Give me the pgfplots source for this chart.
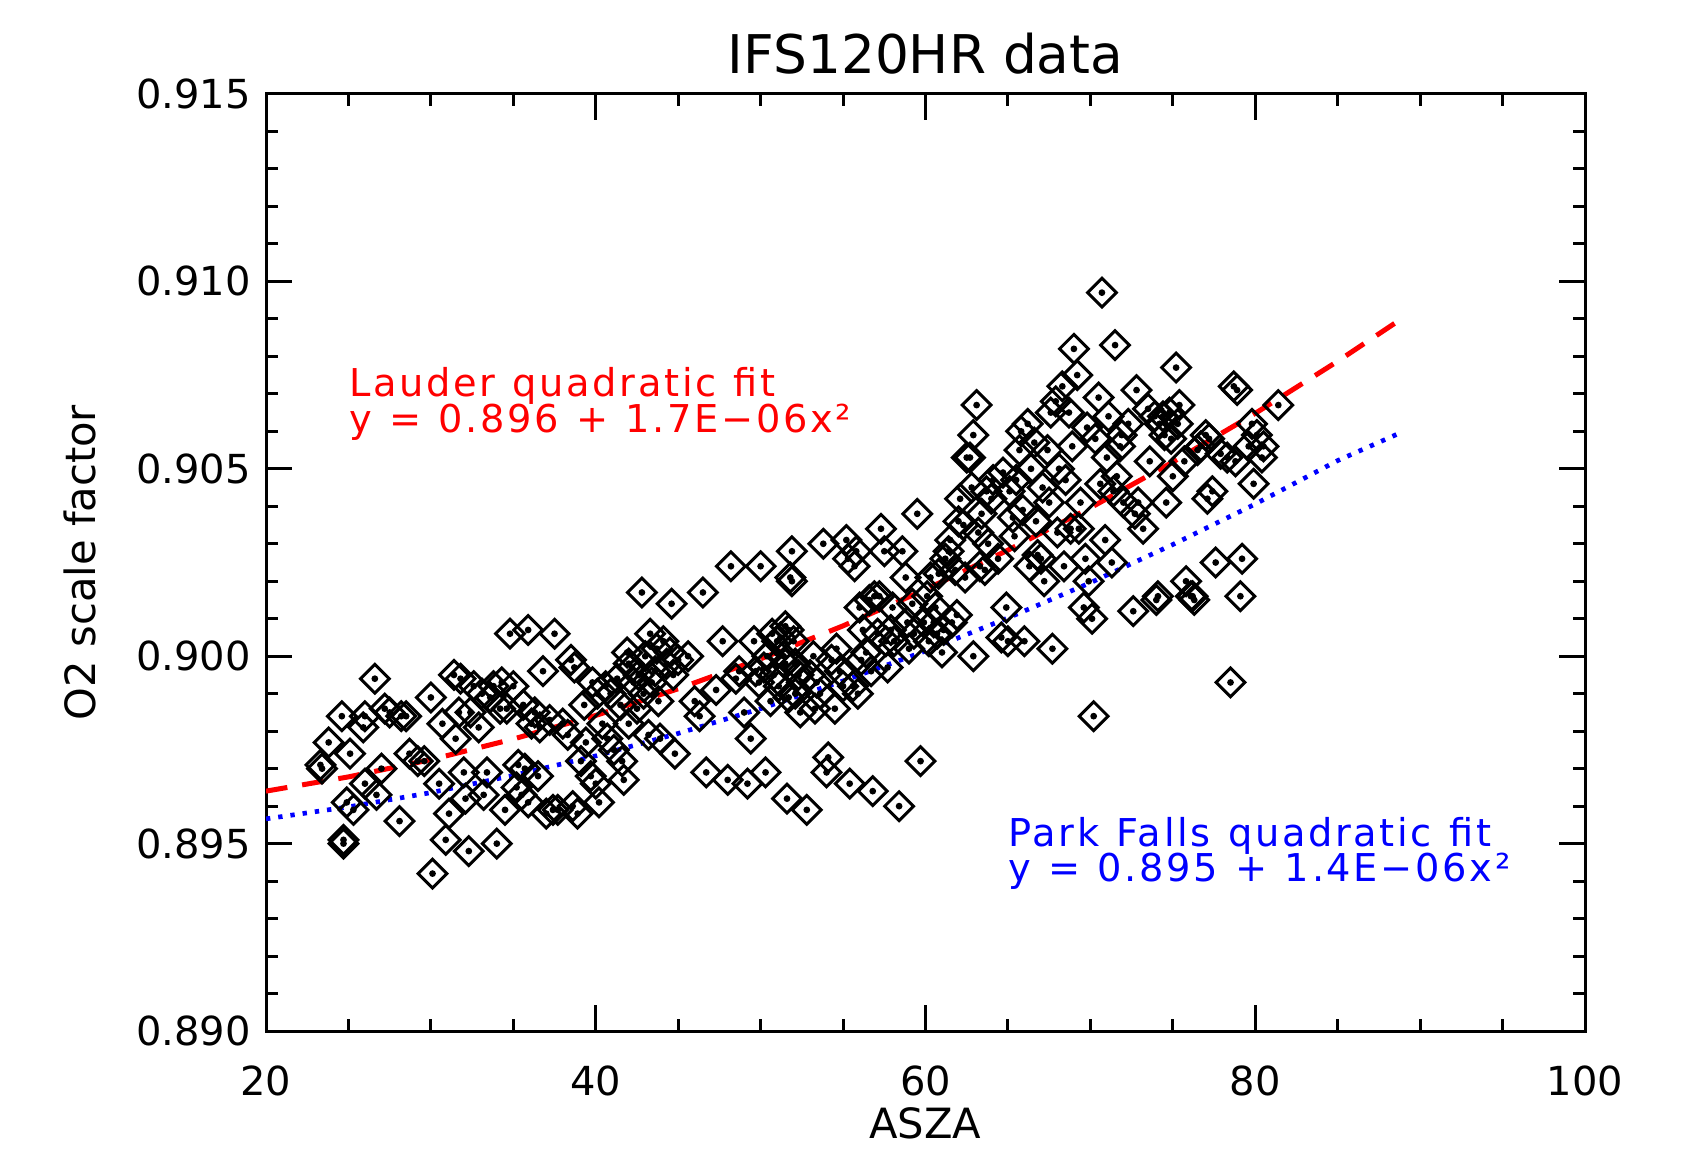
\documentclass[border=0pt]{standalone}
\usepackage{fontspec}
\setmainfont{DejaVu Sans}
\newfontfamily\annfont[LetterSpace=7]{DejaVu Sans}
\usepackage{pgfplots}
\pgfplotsset{compat=1.18}
\usepackage{pgfplotstable}

% O2 scale factor against ASZA
\pgfplotstableread{
x y
23.3 0.8971
23.4 0.8970
23.8 0.8977
24.6 0.8984
24.7 0.8950
24.7 0.8951
24.9 0.8961
25.1 0.8974
25.3 0.8959
25.9 0.8981
26.0 0.8984
26.0 0.8966
26.6 0.8994
26.7 0.8963
27.0 0.8970
27.2 0.8986
27.5 0.8985
28.1 0.8956
28.2 0.8984
28.5 0.8984
28.7 0.8974
29.2 0.8972
29.6 0.8972
30.0 0.8989
30.1 0.8942
30.5 0.8966
30.7 0.8982
30.9 0.8951
31.1 0.8958
31.4 0.8995
31.5 0.8978
31.7 0.8985
31.8 0.8994
32.0 0.8969
32.1 0.8962
32.3 0.8948
32.4 0.8985
32.6 0.8992
32.9 0.8981
33.1 0.8990
33.2 0.8963
33.4 0.8969
33.6 0.8989
33.8 0.8992
34.0 0.8950
34.2 0.8986
34.3 0.8993
34.5 0.8959
34.6 0.8986
34.8 0.9006
35.0 0.8992
35.2 0.8965
35.3 0.8971
35.5 0.8963
35.6 0.8987
35.7 0.8970
35.9 0.9007
35.9 0.8961
36.1 0.8982
36.3 0.8985
36.5 0.8968
36.6 0.8981
36.8 0.8996
37.0 0.8958
37.2 0.8983
37.4 0.8959
37.5 0.9006
37.7 0.8959
38.0 0.8982
38.3 0.8979
38.5 0.8999
38.6 0.8960
38.7 0.8997
38.9 0.8958
39.1 0.8972
39.3 0.8987
39.4 0.8977
39.7 0.8968
39.8 0.8993
40.0 0.8966
40.1 0.8990
40.2 0.8961
40.4 0.8982
40.6 0.8992
40.7 0.8978
40.9 0.8990
41.1 0.8975
41.3 0.8994
41.5 0.8987
41.6 0.8972
41.7 0.8967
41.9 0.9001
42.0 0.8998
42.0 0.8982
42.2 0.8997
42.3 0.8993
42.5 0.8986
42.6 0.8995
42.8 0.9017
42.9 0.8990
43.0 0.9000
43.2 0.8979
43.3 0.9006
43.4 0.8993
43.6 0.8996
43.7 0.9002
43.8 0.8988
43.9 0.8978
44.1 0.9004
44.3 0.8998
44.5 0.9001
44.6 0.9014
44.7 0.8995
44.8 0.8974
45.0 0.8999
45.6 0.9000
46.0 0.8988
46.3 0.8984
46.5 0.9017
46.7 0.8969
47.3 0.8991
47.7 0.9004
48.0 0.8967
48.2 0.9024
48.5 0.8994
48.7 0.8996
49.0 0.8985
49.2 0.8966
49.4 0.8978
49.6 0.9004
49.7 0.8996
49.9 0.8993
50.0 0.9024
50.2 0.8997
50.3 0.8969
50.4 0.9000
50.6 0.8988
50.7 0.9006
50.8 0.8995
51.0 0.9004
51.1 0.8992
51.2 0.9005
51.4 0.9000
51.5 0.9008
51.5 0.8998
51.6 0.8962
51.7 0.8989
51.7 0.9007
51.8 0.9021
51.9 0.9020
51.9 0.9028
52.0 0.9004
52.1 0.8998
52.1 0.8990
52.3 0.8995
52.4 0.8985
52.5 0.8993
52.8 0.8959
53.0 0.8995
53.2 0.9000
53.3 0.8986
53.4 0.8993
53.6 0.8990
53.8 0.9030
54.0 0.8969
54.1 0.8973
54.3 0.8999
54.5 0.8986
54.6 0.9002
54.8 0.8996
55.0 0.8992
55.2 0.9031
55.3 0.9026
55.4 0.8966
55.6 0.8992
55.7 0.9024
55.8 0.9028
55.9 0.8990
56.0 0.9013
56.1 0.8999
56.2 0.9007
56.4 0.9001
56.6 0.9015
56.7 0.8996
56.8 0.8964
56.9 0.9016
57.1 0.9006
57.2 0.9016
57.3 0.9034
57.5 0.9028
57.6 0.9004
57.7 0.8997
57.9 0.9007
58.0 0.9013
58.1 0.9004
58.4 0.8960
58.6 0.9028
58.8 0.9021
58.9 0.9009
59.0 0.9002
59.2 0.9014
59.3 0.9006
59.5 0.9038
59.7 0.8972
59.9 0.9009
60.1 0.9016
60.2 0.9004
60.3 0.9021
60.5 0.9009
60.6 0.9013
60.7 0.9006
60.8 0.9022
61.0 0.9001
61.1 0.9007
61.2 0.9026
61.4 0.9028
61.5 0.9031
61.6 0.9009
61.8 0.9023
61.9 0.9011
62.0 0.9036
62.1 0.9042
62.3 0.9035
62.4 0.9021
62.5 0.9053
62.7 0.9053
62.8 0.9045
62.9 0.9059
62.9 0.9000
63.1 0.9067
63.2 0.9033
63.3 0.9024
63.4 0.9038
63.6 0.9023
63.7 0.9044
63.8 0.9030
64.0 0.9042
64.1 0.9047
64.4 0.9026
64.6 0.9005
64.7 0.9049
64.9 0.9013
65.0 0.9004
65.1 0.9044
65.3 0.9037
65.4 0.9032
65.5 0.9047
65.7 0.9055
65.8 0.9060
65.9 0.9039
66.0 0.9004
66.2 0.9062
66.3 0.9024
66.4 0.9050
66.6 0.9057
66.7 0.9036
66.8 0.9027
67.0 0.9026
67.1 0.9045
67.2 0.9020
67.4 0.9055
67.5 0.9041
67.6 0.9065
67.7 0.9002
67.9 0.9068
68.0 0.9033
68.1 0.9050
68.3 0.9072
68.4 0.9024
68.5 0.9047
68.7 0.9065
68.8 0.9034
68.9 0.9056
69.0 0.9082
69.2 0.9075
69.3 0.9034
69.4 0.9041
69.6 0.9013
69.7 0.9026
69.8 0.9061
69.9 0.9020
70.1 0.9010
70.2 0.8984
70.3 0.9058
70.5 0.9069
70.6 0.9046
70.7 0.9097
70.9 0.9031
71.0 0.9053
71.1 0.9064
71.3 0.9025
71.4 0.9044
71.5 0.9083
71.6 0.9048
71.8 0.9056
71.9 0.9059
72.0 0.9041
72.3 0.9062
72.6 0.9012
72.7 0.9038
72.8 0.9071
72.9 0.9041
73.2 0.9034
73.5 0.9066
73.6 0.9052
73.9 0.9064
74.0 0.9015
74.1 0.9016
74.2 0.9062
74.4 0.9064
74.5 0.9059
74.6 0.9041
74.8 0.9065
74.9 0.9058
75.0 0.9048
75.2 0.9077
75.3 0.9062
75.4 0.9067
75.7 0.9052
75.8 0.9020
76.1 0.9016
76.2 0.9016
76.3 0.9015
76.5 0.9055
76.7 0.9056
77.0 0.9059
77.1 0.9042
77.2 0.9058
77.4 0.9044
77.6 0.9025
77.9 0.9054
78.3 0.9053
78.5 0.8993
78.7 0.9072
78.8 0.9052
78.9 0.9071
79.1 0.9016
79.2 0.9026
79.6 0.9056
79.8 0.9062
79.9 0.9046
80.1 0.9059
80.4 0.9053
80.5 0.9056
81.4 0.9067
}\ifsdata

\begin{document}
\begin{tikzpicture}
\tikzset{ann/.style={anchor=base west, inner sep=0pt,
  font=\annfont\fontsize{11.5}{13}\selectfont}}
\begin{axis}[
  name=ax,
  width=395.7pt, height=281.1pt, scale only axis,
  xmin=20, xmax=100, ymin=0.890, ymax=0.915,
  xtick={20,40,60,80,100}, minor x tick num=3,
  ytick={0.890,0.895,0.900,0.905,0.910,0.915}, minor y tick num=4,
  scaled y ticks=false,
  yticklabel style={/pgf/number format/.cd, fixed, fixed zerofill, precision=3, /tikz/.cd, xshift=-1pt},
  /pgf/number format/assume math mode=true,
  tick label style={font=\fontsize{12}{14}\selectfont},
  xticklabel style={yshift=-7pt},
  tick align=inside,
  major tick length=7.8pt, minor tick length=3.6pt,
  axis line style={line width=0.9pt},
  every tick/.style={black, line width=0.9pt},
  title=IFS120HR data,
  title style={at={(axis description cs:0.5,1.0217)}, anchor=center, font=\fontsize{16}{18}\selectfont},
  xlabel=ASZA,
  xlabel style={at={(axis description cs:0.5,-0.099)}, anchor=center, inner sep=0pt, font=\fontsize{12.5}{14}\selectfont},
  ylabel=O2 scale factor,
  ylabel style={at={(axis description cs:-0.141,0.5)}, anchor=center, inner sep=0pt, font=\fontsize{12.5}{14}\selectfont},
]
\addplot[only marks, mark=square, mark size=3.05pt,
  mark options={rotate=45, line width=0.9pt, black, fill=none}] table {\ifsdata};
\addplot[only marks, mark=*, mark size=0.8pt, black] table {\ifsdata};

% Lauder fit
\addplot[red, line width=1.5pt, dash pattern=on 6.5pt off 4.5pt] coordinates {
  (20,0.89640) (25,0.89678) (30,0.89724) (35,0.89779) (40,0.89842)
  (45,0.89913) (50,0.89993) (55,0.90081) (60,0.90178) (65,0.90283)
  (70,0.90396) (75,0.90518) (80,0.90648) (85,0.90787) (89,0.90904)
};
% Park Falls fit
\addplot[blue, line width=1.4pt, dash pattern=on 1.3pt off 2.4pt] coordinates {
  (20,0.89566) (25,0.89598) (30,0.89636) (35,0.89682) (40,0.89734)
  (45,0.89794) (50,0.89860) (55,0.89934) (60,0.90014) (65,0.90102)
  (70,0.90196) (75,0.90298) (80,0.90406) (85,0.90522) (88.8,0.90596)
};

\node[ann, red] at (axis cs:25,0.90693) {\spaceskip=0.45em\relax Lauder quadratic fit};
\node[ann, red] at (axis cs:25,0.90596) {\spaceskip=0.45em\relax y = 0.896 + 1.7E−06x²};
\node[ann, blue] at (axis cs:65,0.89492) {\spaceskip=0.45em\relax Park Falls quadratic fit};
\node[ann, blue] at (axis cs:65,0.89398) {\spaceskip=0.45em\relax y = 0.895 + 1.4E−06x²};
\end{axis}
\path (ax.south west) ++(-79.8pt,-36pt) (ax.north east) ++(28.8pt,28.2pt);
\end{tikzpicture}
\end{document}
